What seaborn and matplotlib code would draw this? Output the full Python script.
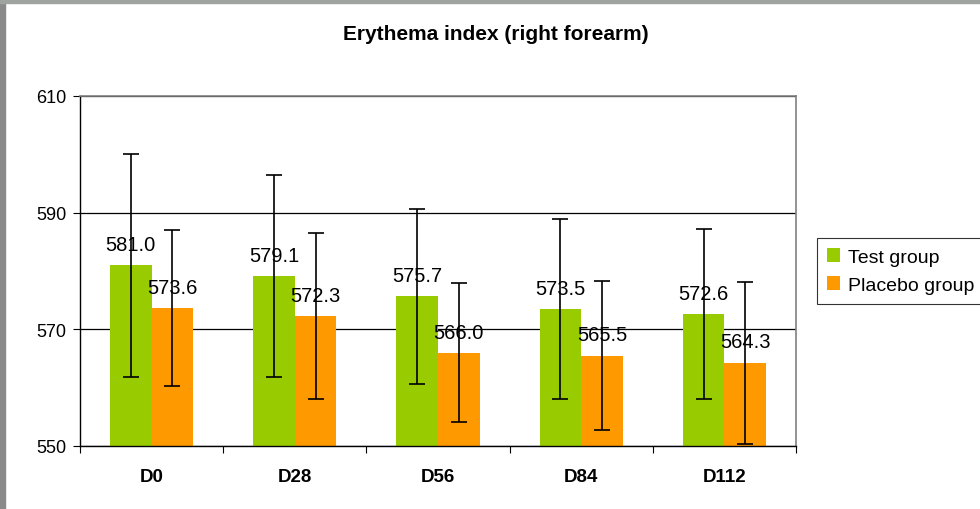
import numpy as np
import pandas as pd
import seaborn as sns
from matplotlib import pyplot as plt
from matplotlib.patches import Rectangle

DAYS = ["D0", "D28", "D56", "D84", "D112"]
GROUPS = ["Test group", "Placebo group"]
TEST_MEAN = [581.0, 579.1, 575.7, 573.5, 572.6]
PLACEBO_MEAN = [573.6, 572.3, 566.0, 565.5, 564.3]
TEST_SD = [19.1, 17.3, 15.0, 15.4, 14.6]
PLACEBO_SD = [13.4, 14.3, 11.9, 12.8, 13.9]
COLORS = ["#99CC00", "#FF9900"]

data = pd.DataFrame({
    "day": DAYS * 2,
    "value": TEST_MEAN + PLACEBO_MEAN,
    "group": [GROUPS[0]] * 5 + [GROUPS[1]] * 5,
})
sds = [TEST_SD, PLACEBO_SD]
means = [TEST_MEAN, PLACEBO_MEAN]

sns.set_style("white")
plt.rcParams["font.family"] = ["Liberation Sans", "DejaVu Sans"]
plt.rcParams["text.color"] = "black"
plt.rcParams["xtick.color"] = "black"
plt.rcParams["ytick.color"] = "black"

fig = plt.figure(figsize=(9.8, 5.1), dpi=100)
ax = fig.add_axes([80 / 980, 1 - 447 / 510, 716 / 980, 350 / 510])

sns.barplot(
    data=data, x="day", y="value", hue="group", order=DAYS, hue_order=GROUPS,
    palette=COLORS, width=0.58, errorbar=None, saturation=1, linewidth=0,
    ax=ax, zorder=2,
)

for cont, sd, mean in zip(ax.containers, sds, means):
    xs = [p.get_x() + p.get_width() / 2 for p in cont.patches]
    ax.errorbar(xs, mean, yerr=sd, fmt="none", ecolor="black",
                elinewidth=1.2, capsize=5.6, capthick=1.2, zorder=4)
    ax.bar_label(cont, labels=[f"{v:.1f}" for v in mean], padding=8,
                 fontsize=14.5, color="black", zorder=5)

ax.set_ylim(550, 610)
ax.set_xlim(-0.5, 4.5)
ax.set_yticks([550, 570, 590, 610])
ax.yaxis.grid(True, color="black", linewidth=0.9, zorder=0)
ax.set_axisbelow(True)
ax.tick_params(axis="y", labelsize=13, length=5, width=0.8, direction="out",
               left=True, pad=5)
ax.set_xticks(range(5))
ax.set_xticklabels(DAYS, fontweight="bold", fontsize=13.5)
ax.set_xticks(np.arange(-0.5, 5, 1), minor=True)
ax.tick_params(axis="x", which="major", length=0, pad=16)
ax.tick_params(axis="x", which="minor", length=5, width=0.8, direction="out",
               bottom=True)
ax.set_xlabel("")
ax.set_ylabel("")

for side in ["left", "bottom"]:
    ax.spines[side].set_color("black")
    ax.spines[side].set_linewidth(1.0)
for side in ["top", "right"]:
    ax.spines[side].set_color("#808080")
    ax.spines[side].set_linewidth(1.2)

fig.text(496 / 980, 1 - 35 / 510, "Erythema index (right forearm)",
         fontweight="bold", fontsize=15, ha="center", va="center")

ax.legend(loc="center left", bbox_to_anchor=(817 / 980, 1 - 272 / 510),
          bbox_transform=fig.transFigure, frameon=True, fancybox=False,
          edgecolor="black", fontsize=14, handlelength=0.7, handleheight=0.7,
          handletextpad=0.4, borderpad=0.5, labelspacing=0.55,
          borderaxespad=0)
ax.get_legend().get_frame().set_linewidth(0.8)

# window frame remnants
fig.patches.append(Rectangle((0, 0), 5 / 980, 1, transform=fig.transFigure,
                             color="#8a8a8a", zorder=-1))
fig.patches.append(Rectangle((0, 1 - 4 / 510), 1, 4 / 510,
                             transform=fig.transFigure, color="#a0a4a0",
                             zorder=-1))

fig.savefig("out.png", dpi=100)
